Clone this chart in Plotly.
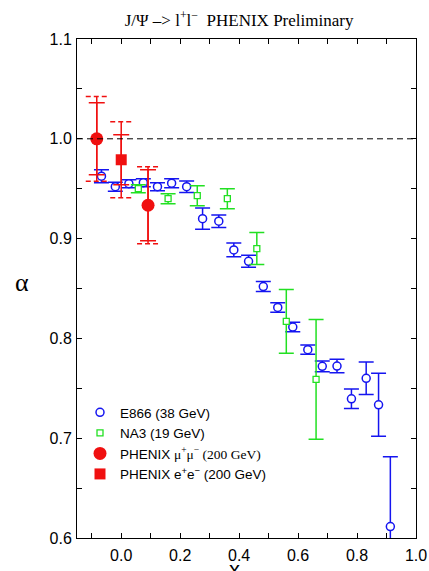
import plotly.graph_objects as go

# ---- data ----
e866_x = [-0.067, -0.020, 0.026, 0.075, 0.123, 0.171, 0.222, 0.276, 0.331, 0.382, 0.432,
          0.482, 0.531, 0.582, 0.633, 0.682, 0.732, 0.781, 0.831, 0.873, 0.913]
e866_y = [0.9625, 0.952, 0.955, 0.956, 0.952, 0.9555, 0.952, 0.920, 0.9174, 0.8887, 0.8772,
          0.8519, 0.831, 0.8114, 0.7887, 0.772, 0.7723, 0.7395, 0.760, 0.7335, 0.6114]
e866_err = [0.0065, 0.0045, 0.004, 0.004, 0.004, 0.0045, 0.0058, 0.0107, 0.0062, 0.007, 0.006,
            0.005, 0.0048, 0.0047, 0.0047, 0.0053, 0.0067, 0.0097, 0.0163, 0.0315, 0.070]

na3_x = [0.058, 0.159, 0.258, 0.360, 0.460, 0.560, 0.661]
na3_y = [0.950, 0.940, 0.943, 0.940, 0.890, 0.817, 0.759]
na3_err = [0.004, 0.005, 0.010, 0.010, 0.016, 0.032, 0.060]

mu_x = [-0.083, 0.091]
mu_y = [1.000, 0.9334]
mu_stat = [0.036, 0.0355]
mu_sys = [0.0425, 0.0385]

ee_x = [0.0]
ee_y = [0.979]
ee_stat = [0.025]
ee_sys = [0.038]

x_tickvals = [0.0, 0.2, 0.4, 0.6, 0.8, 1.0]
x_ticktext = ["0.0", "0.2", "0.4", "0.6", "0.8", "1.0"]
x_minorvals = [-0.1, 0.1, 0.3, 0.5, 0.7, 0.9]
y_tickvals = [0.6, 0.7, 0.8, 0.9, 1.0, 1.1]
y_ticktext = ["0.6", "0.7", "0.8", "0.9", "1.0", "1.1"]
y_minorvals = [0.65, 0.75, 0.85, 0.95, 1.05]

# ---- layout constants ----
W, H = 429, 571
ML, MR, MT, MB = 77, 13, 39, 33
PW, PH = W - ML - MR, H - MT - MB
XR = [-0.15, 1.0]
YR = [0.6, 1.1]
px_per_x = PW / (XR[1] - XR[0])
SYS_CAP_HALF_PX = 11
BLUE = "#1515f0"
GREEN = "#22e022"
RED = "#f01010"
SANS = "Liberation Sans, Arial, sans-serif"
SERIF = "Liberation Serif, Times New Roman, serif"

fig = go.Figure()

# E866
fig.add_trace(go.Scatter(
    x=e866_x, y=e866_y, mode="markers", name="E866 (38 GeV)",
    marker=dict(symbol="circle", size=8, color="white", line=dict(color=BLUE, width=1.5)),
    error_y=dict(type="data", array=e866_err, color=BLUE, thickness=1.5, width=7.5),
))

# NA3
fig.add_trace(go.Scatter(
    x=na3_x, y=na3_y, mode="markers", name="NA3 (19 GeV)",
    marker=dict(symbol="square", size=6, color="white", line=dict(color=GREEN, width=1.3)),
    error_y=dict(type="data", array=na3_err, color=GREEN, thickness=1.5, width=7.5),
))

# PHENIX: systematic vertical lines (solid) + dashed caps
def sys_caps(xs, ys, errs):
    cx, cy = [], []
    d = SYS_CAP_HALF_PX / px_per_x
    for xv, yv, ev in zip(xs, ys, errs):
        for s in (1, -1):
            cx += [xv - d, xv + d, None]
            cy += [yv + s * ev, yv + s * ev, None]
    return cx, cy

for xs, ys, sy in ((mu_x, mu_y, mu_sys), (ee_x, ee_y, ee_sys)):
    fig.add_trace(go.Scatter(
        x=xs, y=ys, mode="markers", showlegend=False, hoverinfo="skip",
        marker=dict(color="rgba(0,0,0,0)", size=1),
        error_y=dict(type="data", array=sy, color=RED, thickness=1.5, width=0),
    ))
    cx, cy = sys_caps(xs, ys, sy)
    fig.add_trace(go.Scatter(
        x=cx, y=cy, mode="lines", showlegend=False, hoverinfo="skip",
        line=dict(color=RED, width=1.5, dash="5px,3px"),
    ))

fig.add_trace(go.Scatter(
    x=mu_x, y=mu_y, mode="markers",
    name="PHENIX <span style='font-family:Liberation Serif'>\u03bc<sup>+</sup>\u03bc<sup>\u2212</sup> (200 GeV)</span>",
    marker=dict(symbol="circle", size=13, color=RED),
    error_y=dict(type="data", array=mu_stat, color=RED, thickness=1.5, width=8),
))
fig.add_trace(go.Scatter(
    x=ee_x, y=ee_y, mode="markers",
    name="PHENIX e<sup>+</sup>e<sup>\u2212</sup> (200 GeV)",
    marker=dict(symbol="square", size=11, color=RED),
    error_y=dict(type="data", array=ee_stat, color=RED, thickness=1.5, width=8),
))

fig.add_hline(y=1.0, line=dict(color="black", width=1, dash="6px,4px"))

axis_common = dict(showline=True, linecolor="black", linewidth=1, mirror="ticks",
                   ticks="inside", ticklen=5, tickcolor="black", tickwidth=1,
                   showgrid=False, zeroline=False, automargin=False,
                   tickfont=dict(family=SANS, size=16, color="black"))
minor_common = dict(ticks="inside", ticklen=5, tickcolor="black", tickwidth=1, showgrid=False)

fig.update_layout(
    template="none",
    width=W, height=H,
    margin=dict(l=ML, r=MR, t=MT, b=MB, autoexpand=False),
    paper_bgcolor="white", plot_bgcolor="white",
    title=dict(text="J/\u03a8 \u2013> l<sup>+</sup>l<sup>\u2212</sup>  PHENIX Preliminary",
               x=(ML + 0.478 * PW) / W, xanchor="center", xref="container",
               y=1 - 20 / H, yanchor="middle", yref="container",
               font=dict(family=SERIF, size=17, color="black")),
    xaxis=dict(range=XR, tickmode="array", tickvals=x_tickvals, ticktext=x_ticktext,
               minor=dict(tickmode="array", tickvals=x_minorvals, **minor_common),
               ticklabelstandoff=3, **axis_common),
    yaxis=dict(range=YR, tickmode="array", tickvals=y_tickvals, ticktext=y_ticktext,
               minor=dict(tickmode="array", tickvals=y_minorvals, **minor_common),
               ticklabelstandoff=1, **axis_common),
    legend=dict(x=3 / PW, xanchor="left", y=1 - (397 - MT) / PH, yanchor="top",
                bgcolor="rgba(0,0,0,0)", borderwidth=0, tracegroupgap=0,
                font=dict(family=SANS, size=13.5, color="black")),
    showlegend=True,
    annotations=[
        dict(text="\u03b1", xref="paper", yref="paper",
             x=-(ML - 22) / PW, y=1 - (282 - MT) / PH,
             xanchor="center", yanchor="middle", showarrow=False,
             font=dict(family=SERIF, size=26, color="black")),
        dict(text="x<sub>F</sub>", xref="paper", yref="paper",
             x=0.478, y=-(555 - (H - MB)) / PH,
             xanchor="center", yanchor="top", showarrow=False,
             font=dict(family=SANS, size=22, color="black")),
    ],
)

fig.write_html("out.html", config={"displayModeBar": False},
               post_script="document.body.style.margin='0';")
